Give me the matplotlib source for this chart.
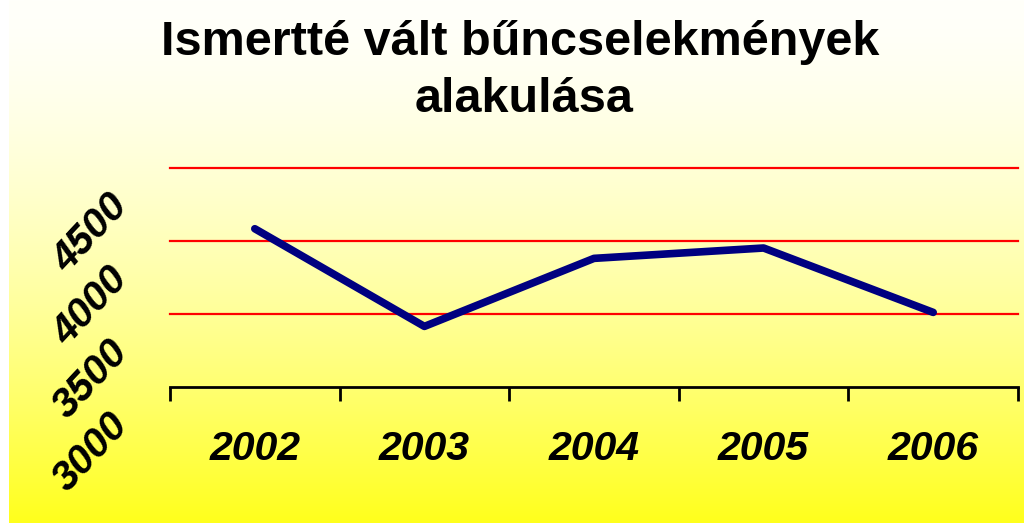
import numpy as np
import matplotlib
matplotlib.use("Agg")
import matplotlib.pyplot as plt
from matplotlib.transforms import ScaledTranslation

# Data
years = ["2002", "2003", "2004", "2005", "2006"]
cases = [4084, 3415, 3881, 3952, 3511]
ytick_values = [3000, 3500, 4000, 4500]
ytick_labels = ["3000", "3500", "4000", "4500"]
title_lines = ["Ismertté vált bűncselekmények", "alakulása"]

plt.rcParams["font.family"] = ["Liberation Sans", "DejaVu Sans"]

fig = plt.figure(figsize=(10.24, 5.23), dpi=100)
fig.patch.set_facecolor("white")

# gradient background (pale at top -> yellow at bottom)
bg = fig.add_axes([9 / 1024, 0, 1 - 9 / 1024, 1], zorder=-10)
t = np.linspace(0, 1, 256) ** 1.6
blue = 250 - 222 * t
grad = np.zeros((256, 1, 3))
grad[:, 0, 0] = 1.0
grad[:, 0, 1] = 1.0
grad[:, 0, 2] = blue / 255
bg.imshow(grad, aspect="auto", extent=[0, 1, 0, 1], origin="upper")
bg.axis("off")

ax = fig.add_axes([170 / 1024, 1 - 387 / 523, 848 / 1024, 219 / 523])
ax.patch.set_alpha(0)

x = np.arange(len(years))
ax.plot(x, cases, color="#000080", lw=5.5, solid_capstyle="round", zorder=3)

ax.set_xlim(-0.5, len(years) - 0.5)
ax.set_ylim(3000, 4500)

# red gridlines
for v in ytick_values[1:]:
    ax.axhline(v, color="#FF0000", lw=1.6, clip_on=False, zorder=1)

for side in ["top", "right", "left"]:
    ax.spines[side].set_visible(False)
ax.spines["bottom"].set_linewidth(2)

# category boundary ticks
ax.set_xticks(np.arange(-0.5, len(years), 1.0), minor=True)
ax.tick_params(axis="x", which="minor", length=10, width=2, direction="out")
ax.set_xticks(x)
ax.set_xticklabels(years, fontsize=29.5, fontweight="bold", fontstyle="italic")
ax.tick_params(axis="x", which="major", length=0, pad=31)

ax.set_yticks(ytick_values)
ax.set_yticklabels(ytick_labels, fontsize=29.5, fontweight="bold", fontstyle="italic")
ax.tick_params(axis="y", length=0, pad=57)
offset = ScaledTranslation(0, -0.65, fig.dpi_scale_trans)
for lab in ax.get_yticklabels():
    lab.set_rotation(47)
    lab.set_rotation_mode("anchor")
    lab.set_ha("center")
    lab.set_va("center")
    lab.set_transform(lab.get_transform() + offset)

fig.text(0.508, 1 - 55 / 523, title_lines[0], ha="center", va="baseline",
         fontsize=35, fontweight="bold")
fig.text(0.512, 1 - 112 / 523, title_lines[1], ha="center", va="baseline",
         fontsize=35, fontweight="bold")

fig.savefig("out.png", dpi=100)
